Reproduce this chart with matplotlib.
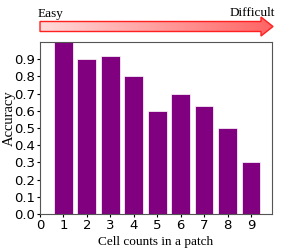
import matplotlib.pyplot as plt
import numpy as np
from matplotlib.patches import Polygon
from matplotlib.colors import LinearSegmentedColormap

counts = [1, 2, 3, 4, 5, 6, 7, 8, 9]
accuracy = [1.0, 0.9, 0.92, 0.8, 0.6, 0.7, 0.63, 0.5, 0.3]
serif = "Liberation Serif"

fig = plt.figure(figsize=(2.91, 2.52), dpi=100)
ax = fig.add_axes([0.137, 0.151, 0.798, 0.682])

ax.bar(counts, accuracy, width=0.8, color="purple", edgecolor="white", linewidth=0.5)
ax.set_xlim(0, 9.9)
ax.set_ylim(0, 1.0)
ax.set_xticks(range(0, 10))
ax.set_yticks(np.arange(0, 1.0, 0.1))
ax.tick_params(labelsize=9.5, length=2.5, pad=1)
ax.set_xlabel("Cell counts in a patch", font=serif, fontsize=9.5, labelpad=3)
ax.set_ylabel("Accuracy", font=serif, fontsize=10.5)
ax.yaxis.set_label_coords(-0.105, 0.555)
for s in ax.spines.values():
    s.set_color("#555555")
    s.set_linewidth(0.8)

# gradient arrow on top
aax = fig.add_axes([0, 0, 1, 1])
aax.axis("off")
x0, x1, xh = 40, 273, 261
pts = [(x0, 21.5), (xh, 21.5), (xh, 17), (x1, 26.5), (xh, 36), (xh, 31.5), (x0, 31.5)]
grad = np.linspace(0, 1, 256).reshape(1, -1)
cmap = LinearSegmentedColormap.from_list("pr", ["#ffdada", "#ff6464"])
im = aax.imshow(grad, extent=[x0, x1, 36, 17], cmap=cmap, aspect="auto", zorder=1)
poly = Polygon(pts, closed=True, facecolor="none", edgecolor="#ff2020", linewidth=1.0, zorder=2)
aax.add_patch(poly)
im.set_clip_path(poly)
aax.set_xlim(0, 291)
aax.set_ylim(252, 0)
aax.text(x0 - 2, 16.5, "Easy", font=serif, fontsize=9.5, ha="left", va="baseline")
aax.text(x1 + 2, 16.5, "Difficult", font=serif, fontsize=9.5, ha="right", va="baseline")

fig.savefig("out.png", dpi=100)
